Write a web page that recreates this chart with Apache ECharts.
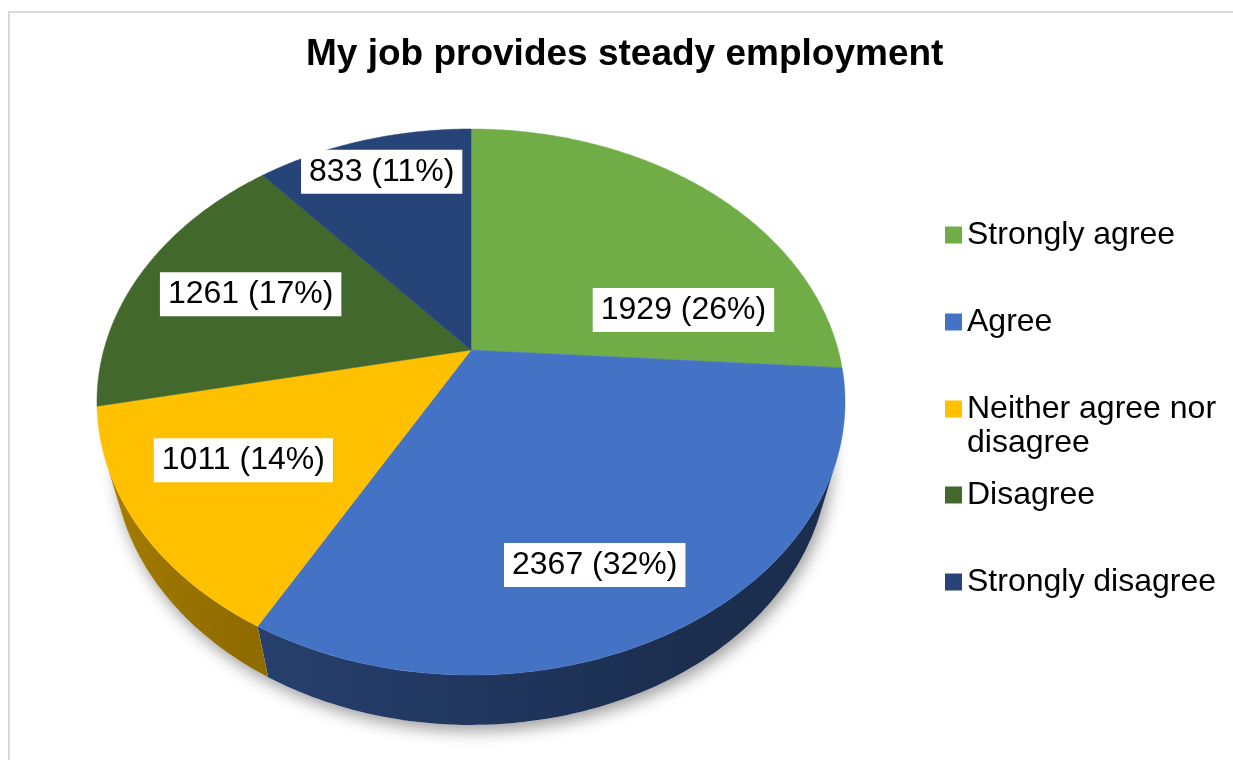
<!DOCTYPE html>
<html><head><meta charset="utf-8">
<script src="https://cdn.jsdelivr.net/npm/echarts@6/dist/echarts.min.js"></script>
<style>html,body{margin:0;padding:0;background:#fff}#main{width:1233px;height:760px}</style>
</head><body><div id="main"></div>
<script>
// ---- data ----
const titleText = 'My job provides steady employment';
const categories = ['Strongly agree', 'Agree', 'Neither agree nor disagree', 'Disagree', 'Strongly disagree'];
const counts = [1929, 2367, 1011, 1261, 833];
const sliceColors = ['#70AD47', '#4472C4', '#FFC000', '#43682B', '#264478'];

// ---- derived ----
const total = counts.reduce((a, b) => a + b, 0);
const starts = [];
let acc = 0;
counts.forEach(v => { starts.push(acc); acc += v; });

// ---- layout: 3D projection and label placement (angle shift in degrees, radius fraction) ----
const P = { cx: 471, cy: 350, f: 1344.6, D: 3.662, s: 0.7166, c: 0.6976, h: 0.221 };
const labelPlace = [[28.4, 0.616], [6.2, 0.765], [2.4, 0.693], [0.6, 0.663], [0.5, 0.826]];
const DEG = Math.PI / 180;
function proj(X, Y, Z) {
  const yc = Y * P.s + Z * P.c;
  const d = P.D + Y * P.c - Z * P.s;
  return [P.cx + P.f * X / d, P.cy - P.f * yc / d];
}
function rim(t, Z) { return proj(Math.sin(t), Math.cos(t), Z); }
const visLimit = Math.acos(-1 / (P.D * P.c));

function shade(hex, k) {
  const n = parseInt(hex.slice(1), 16);
  const r = (n >> 16) & 255, g = (n >> 8) & 255, b = n & 255;
  return 'rgb(' + Math.round(r * k) + ',' + Math.round(g * k) + ',' + Math.round(b * k) + ')';
}
function wallFactor(t) {
  const d = t / DEG;
  return 0.40 + 0.27 * Math.min(1, Math.max(0, (d - 150) / 100));
}

function renderSlice(params, api) {
  const idx = params.seriesIndex - 1;
  const color = api.visual('color');
  const start = api.value(0), val = api.value(1);
  const a0 = start / total * 2 * Math.PI, a1 = (start + val) / total * 2 * Math.PI;
  const children = [];
  // side wall (visible front part)
  const w0 = Math.max(a0, visLimit), w1 = Math.min(a1, 2 * Math.PI - visLimit);
  if (w1 > w0) {
    const n = Math.max(2, Math.ceil((w1 - w0) / DEG));
    const topPts = [], botPts = [], samples = [];
    for (let k = 0; k <= n; k++) {
      const t = w0 + (w1 - w0) * k / n;
      const tp = rim(t, 0);
      topPts.push(tp); botPts.push(rim(t, -P.h));
      samples.push([tp[0], wallFactor(t)]);
    }
    const xs = samples.map(s => s[0]);
    const xmin = Math.min.apply(null, xs), xmax = Math.max.apply(null, xs);
    const stops = samples.map(s => ({ offset: (s[0] - xmin) / Math.max(1, xmax - xmin), color: shade(color, s[1]) }))
      .sort((p, q) => p.offset - q.offset);
    children.push({
      type: 'polygon',
      shape: { points: topPts.concat(botPts.reverse()) },
      style: {
        fill: { type: 'linear', x: xmin, y: 0, x2: xmax, y2: 0, global: true, colorStops: stops },
        stroke: null
      }
    });
  }
  // top face
  const m = Math.max(2, Math.ceil((a1 - a0) / (0.5 * DEG)));
  const face = [proj(0, 0, 0)];
  for (let k = 0; k <= m; k++) face.push(rim(a0 + (a1 - a0) * k / m, 0));
  children.push({ type: 'polygon', shape: { points: face }, style: { fill: color, stroke: color, lineWidth: 0.5 } });
  // label
  const lp = labelPlace[idx];
  const mid = (a0 + a1) / 2 + lp[0] * DEG;
  const pos = proj(lp[1] * Math.sin(mid), lp[1] * Math.cos(mid), 0);
  const pct = Math.round(val / total * 100);
  children.push({
    type: 'text', x: pos[0], y: pos[1], z2: 100,
    style: {
      text: val + ' (' + pct + '%)',
      fill: '#000', fontSize: 32, fontFamily: 'Arial, "Liberation Sans", sans-serif',
      align: 'center', verticalAlign: 'middle', lineHeight: 36,
      backgroundColor: '#fff', padding: [4, 8]
    }
  });
  return { type: 'group', children: children };
}

function renderShadow(params, api) {
  const pts = [];
  for (let k = 0; k < 360; k++) pts.push(rim(k * DEG, -P.h));
  return {
    type: 'polygon', shape: { points: pts },
    style: { fill: '#ffffff', shadowBlur: 16, shadowColor: 'rgba(0,0,0,0.38)', shadowOffsetX: 3, shadowOffsetY: 6 }
  };
}

const series = [{
  type: 'custom', name: '_shadow', coordinateSystem: 'none', silent: true, z: 1,
  renderItem: renderShadow, data: [[0]]
}];
categories.forEach((name, i) => {
  series.push({
    type: 'custom', name: name, coordinateSystem: 'none', z: 2,
    itemStyle: { color: sliceColors[i] },
    renderItem: renderSlice,
    data: [[starts[i], counts[i]]]
  });
});

const legendText = { color: '#000', fontSize: 32, fontFamily: 'Arial, "Liberation Sans", sans-serif', lineHeight: 34 };
const legendCommon = { orient: 'vertical', left: 945, itemWidth: 17, itemHeight: 17, itemGap: 53, padding: 0, icon: 'rect', selectedMode: false };

const option = {
  animation: false,
  backgroundColor: '#fff',
  title: {
    text: titleText, left: 306, top: 36, padding: 0,
    textStyle: { fontSize: 37, fontWeight: 'bold', color: '#000', fontFamily: 'Arial, "Liberation Sans", sans-serif' }
  },
  graphic: [{
    type: 'rect', shape: { x: 9, y: 12, width: 1400, height: 900 },
    style: { fill: null, stroke: '#d9d9d9', lineWidth: 2 }, silent: true
  }],
  legend: [
    Object.assign({}, legendCommon, { data: categories.slice(0, 2), top: 218, textStyle: legendText }),
    Object.assign({}, legendCommon, { data: categories.slice(2, 3), top: 358, textStyle: legendText,
      formatter: name => '\n' + name.replace(/ (\S+)$/, '\n$1') }),
    Object.assign({}, legendCommon, { data: categories.slice(3, 5), top: 478, textStyle: legendText })
  ],
  series: series
};
const chart = echarts.init(document.getElementById('main'));
chart.setOption(option);
</script>
</body></html>
